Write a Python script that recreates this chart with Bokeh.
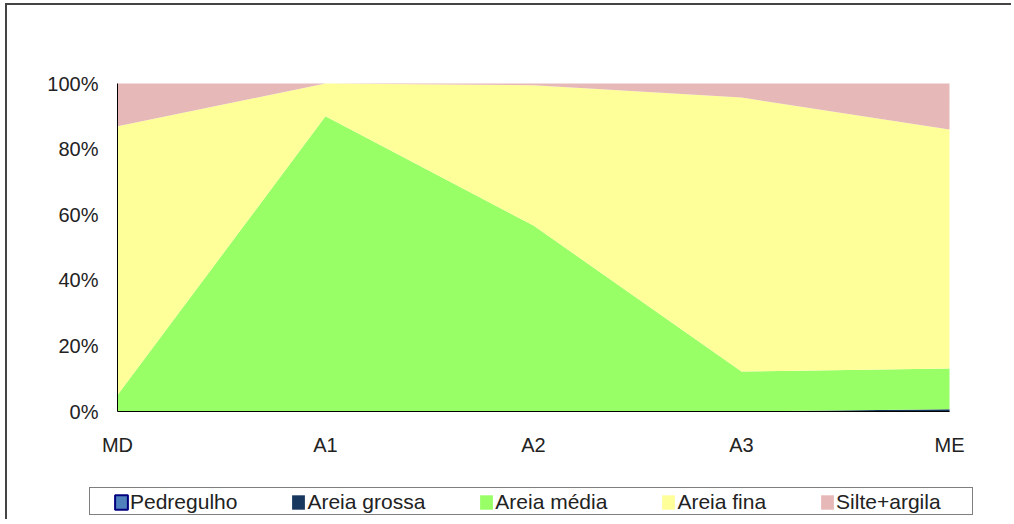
from bokeh.plotting import figure
from bokeh.models import (ColumnDataSource, FixedTicker, NumeralTickFormatter,
                          Legend, LegendItem, Range1d)
from bokeh.embed import file_html
from bokeh.resources import INLINE

# ---- data (fractions of total, per sampling point) ----
categories = ["MD", "A1", "A2", "A3", "ME"]
pedregulho = [0.0, 0.0, 0.0, 0.0, 0.0]
areia_grossa = [0.0, 0.0, 0.0, 0.0, 0.007]
areia_media = [0.05, 0.90, 0.567, 0.122, 0.124]
areia_fina = [0.82, 0.10, 0.428, 0.835, 0.729]
silte_argila = [0.13, 0.0, 0.005, 0.043, 0.14]

series = ["Pedregulho", "Areia grossa", "Areia média", "Areia fina", "Silte+argila"]
colors = ["#4F81BD", "#17375E", "#99FF66", "#FFFF99", "#E6B9B8"]

src = ColumnDataSource(dict(
    x=list(range(len(categories))),
    Pedregulho=pedregulho,
    **{"Areia grossa": areia_grossa, "Areia média": areia_media,
       "Areia fina": areia_fina, "Silte+argila": silte_argila}))

# frame extended beyond the data area so axis labels and legend (drawn inside it) are not clipped
p = figure(width=1006, height=516, output_backend="svg", toolbar_location=None,
           x_range=Range1d(-90 / 208, 4 + 34 / 208),
           y_range=Range1d(-110 / 328, 1 + 38 / 328),
           min_border_left=20, min_border_right=30, min_border_top=40,
           min_border_bottom=0)
p.styles = {"border-left": "2px solid #444", "border-top": "2px solid #444",
            "margin-left": "5px", "margin-top": "3px"}

rs = p.varea_stack(stackers=series, x="x", color=colors, source=src)

# Pedregulho (all zero) drawn as zero-size bars: gives the bordered legend swatch
ped = p.vbar(x="x", top="Pedregulho", bottom=0, width=0, source=src,
             fill_color="#4F81BD", line_color="#00007F", line_width=2)
blank = p.scatter(x=[], y=[], alpha=0)

p.xgrid.visible = False
p.ygrid.visible = False
p.outline_line_color = None

p.xaxis.fixed_location = 0
p.yaxis.fixed_location = 0
p.xaxis.bounds = (0, len(categories) - 1)
p.yaxis.bounds = (0, 1)
p.xaxis.ticker = FixedTicker(ticks=list(range(len(categories))))
p.xaxis.major_label_overrides = {i: c for i, c in enumerate(categories)}
p.yaxis.ticker = FixedTicker(ticks=[0, 0.2, 0.4, 0.6, 0.8, 1.0])
p.yaxis.formatter = NumeralTickFormatter(format="0%")
for ax in (p.xaxis, p.yaxis):
    ax.major_tick_line_color = None
    ax.minor_tick_line_color = None
    ax.axis_line_color = "black"
    ax.axis_line_width = 1
    ax.major_label_text_font = "Liberation Sans"
    ax.major_label_text_font_size = "20px"
    ax.major_label_text_color = "#222222"
p.xaxis.major_label_standoff = 16
p.yaxis.major_label_standoff = 13

# legend frame box
box = Legend(items=[LegendItem(label=" ", renderers=[blank])],
             location=(62, 6), orientation="horizontal",
             border_line_color="black", border_line_width=1.5,
             background_fill_color="white", background_fill_alpha=1,
             padding=0, margin=0, glyph_width=1, glyph_height=26,
             label_standoff=0, label_width=881, label_height=26,
             label_text_font_size="20px")
p.add_layout(box, "center")

items = [LegendItem(label=series[0], renderers=[ped])] + \
        [LegendItem(label=n, renderers=[r]) for n, r in zip(series[1:], rs[1:])]
lg = Legend(items=items, location=(86, 7), orientation="horizontal",
            border_line_alpha=0, background_fill_alpha=0,
            padding=0, margin=0, spacing=53, glyph_width=16, glyph_height=18,
            label_standoff=1, label_text_font="Liberation Sans",
            label_text_font_size="21px", label_text_color="#222222",
            label_height=20)
p.add_layout(lg, "center")

open("out.html", "w").write(file_html(p, INLINE))
